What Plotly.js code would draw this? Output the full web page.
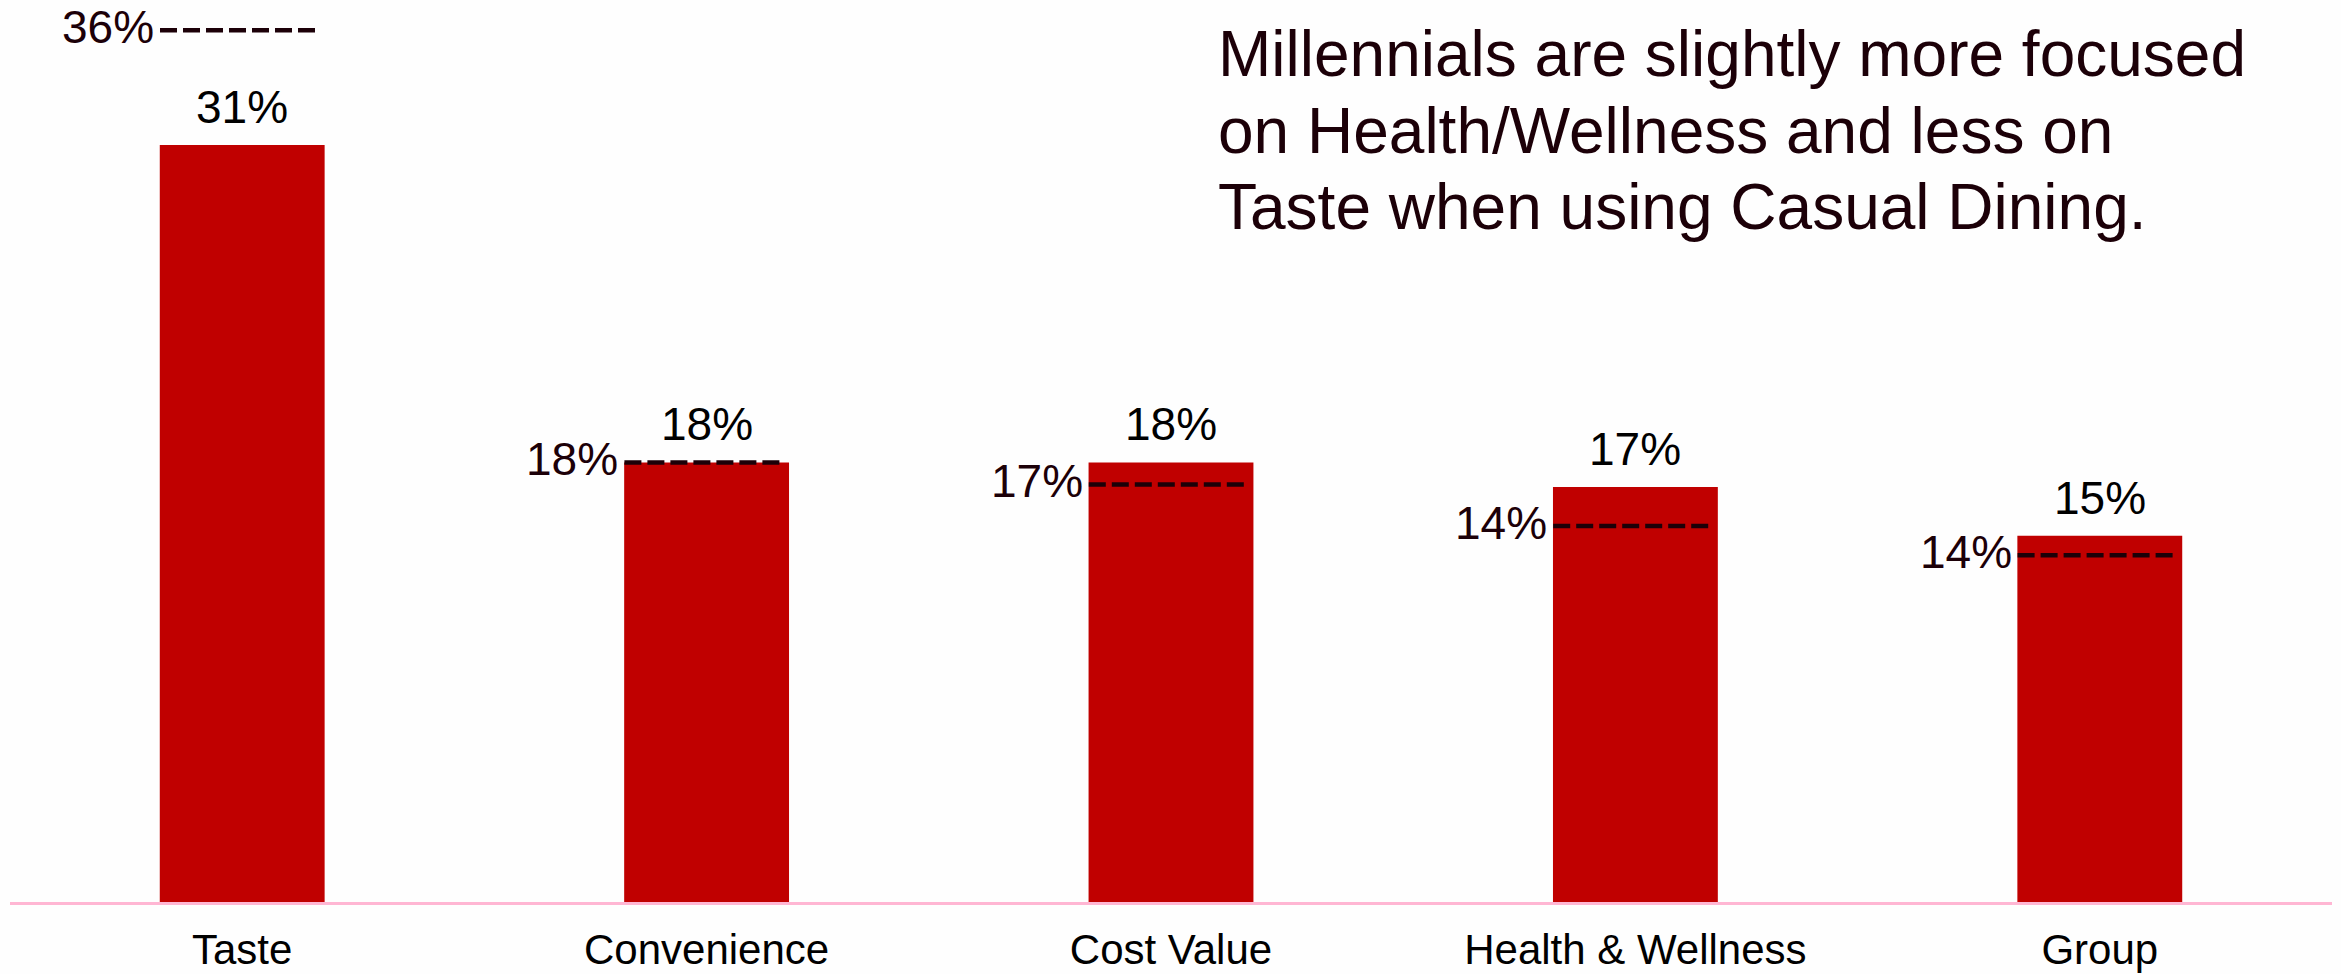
<!DOCTYPE html>
<html>
<head>
<meta charset="utf-8">
<script src="https://cdn.plot.ly/plotly-3.0.1.min.js"></script>
<style>
  html, body { margin: 0; padding: 0; background: #fefefe; }
  #chart { width: 2341px; height: 974px; }
</style>
</head>
<body>
<div id="chart"></div>
<script>
// ---- data ----
const categories = ['Taste', 'Convenience', 'Cost Value', 'Health & Wellness', 'Group'];
const millennialValues = [31, 18, 18, 17, 15];
const millennialLabels = ['31%', '18%', '18%', '17%', '15%'];
const totalValues = [35.7, 18.0, 17.1, 15.4, 14.2];
const totalLabels = ['36%', '18%', '17%', '14%', '14%'];
const headlineLines = [
  'Millennials are slightly more focused',
  'on Health/Wellness and less on',
  'Taste when using Casual Dining.'
];

// ---- chart ----
const FONT = 'Liberation Sans, Arial, sans-serif';
const DARK = '#1c0008';
const xs = categories.map((_, i) => i);

const traces = [{
  type: 'bar',
  x: xs,
  y: millennialValues,
  width: 0.355,
  marker: { color: '#c00000', line: { width: 0 } },
  hoverinfo: 'skip',
  showlegend: false
}];

const annotations = [];
millennialValues.forEach((v, i) => {
  annotations.push({
    x: xs[i], y: v, xref: 'x', yref: 'y',
    text: millennialLabels[i], showarrow: false,
    xanchor: 'center', yanchor: 'bottom', yshift: 10,
    font: { family: FONT, size: 46, color: '#000000' }
  });
});

totalValues.forEach((v, i) => {
  traces.push({
    type: 'scatter',
    mode: 'lines',
    x: [xs[i] - 0.177, xs[i] + 0.165],
    y: [v, v],
    line: { color: DARK, width: 4.5, dash: '17px,6px' },
    cliponaxis: false,
    hoverinfo: 'skip',
    showlegend: false
  });
  annotations.push({
    x: xs[i] - 0.177, y: v, xref: 'x', yref: 'y',
    text: totalLabels[i], showarrow: false,
    xanchor: 'right', yanchor: 'middle', xshift: -4, yshift: 3,
    font: { family: FONT, size: 46, color: DARK }
  });
});

const headlineY = [0.940, 0.8545, 0.770];
headlineLines.forEach((t, k) => {
  annotations.push({
    x: 0.5195, y: headlineY[k], xref: 'paper', yref: 'paper',
    text: t, showarrow: false, xanchor: 'left', yanchor: 'middle',
    font: { family: FONT, size: 64, color: DARK }
  });
});

const layout = {
  width: 2341, height: 974,
  margin: { l: 10, r: 9, t: 0, b: 72, pad: 0 },
  paper_bgcolor: '#fefefe',
  plot_bgcolor: '#fefefe',
  xaxis: {
    type: 'linear',
    range: [-0.5, 4.5],
    tickvals: xs,
    ticktext: categories,
    tickfont: { family: FONT, size: 42, color: '#000000' },
    ticks: '',
    ticklabelstandoff: 9,
    showgrid: false, zeroline: false,
    showline: true, linecolor: '#ffb6d3', linewidth: 3
  },
  yaxis: {
    range: [0, 36.94],
    visible: false, showgrid: false, zeroline: false
  },
  annotations: annotations,
  showlegend: false
};

Plotly.newPlot('chart', traces, layout, { displayModeBar: false, staticPlot: true });
</script>
</body>
</html>
